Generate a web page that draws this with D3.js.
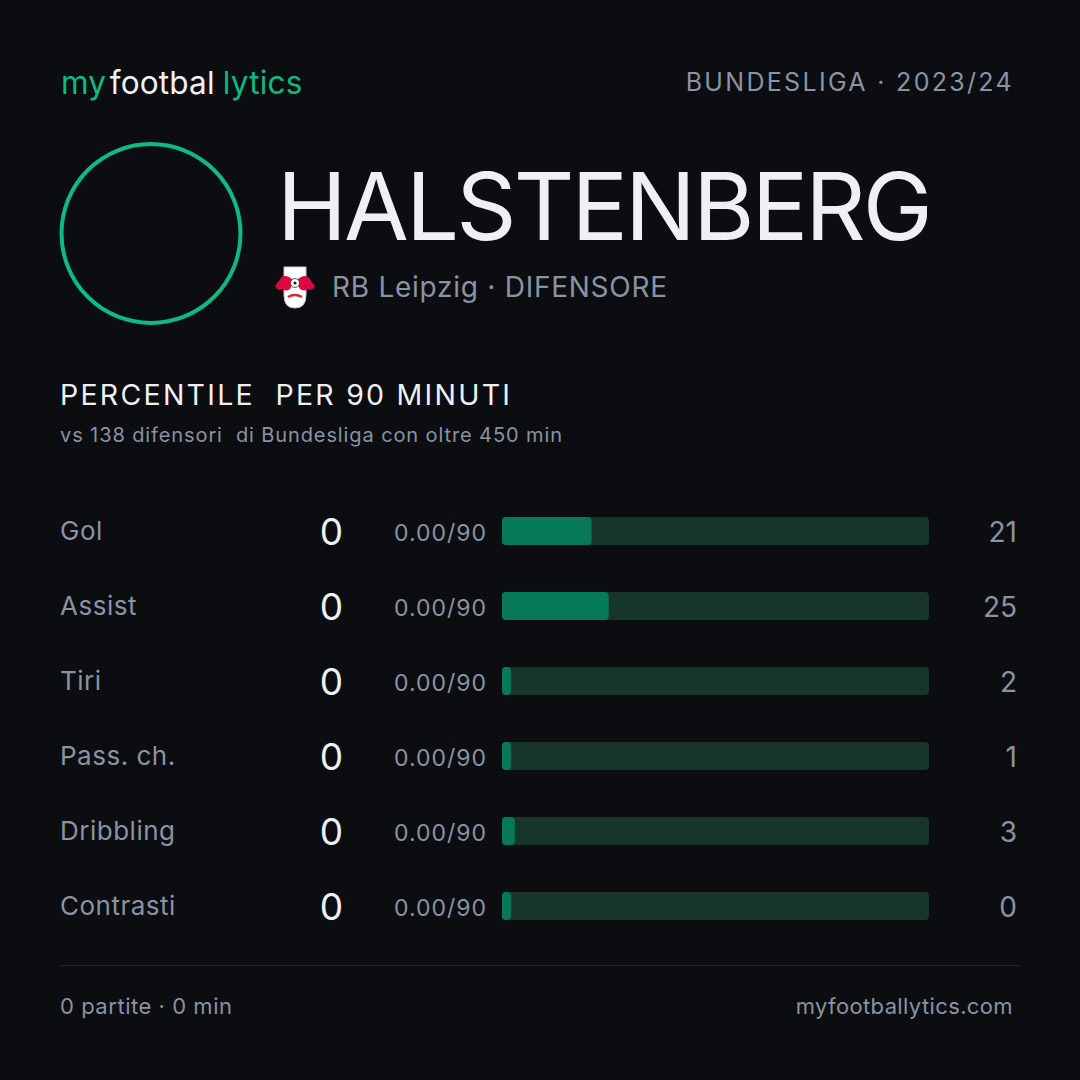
<!DOCTYPE html>
<html>
<head>
<meta charset="utf-8">
<script src="https://cdn.jsdelivr.net/npm/d3@7"></script>
<style>
  html, body { margin: 0; padding: 0; background: #0b0d11; }
  svg { display: block; }
  text { font-family: Inter, "Noto Sans", sans-serif; }
</style>
</head>
<body>
<svg id="chart" width="1080" height="1080"></svg>
<script>
// ---------- data ----------
const metrics = ["Gol", "Assist", "Tiri", "Pass. ch.", "Dribbling", "Contrasti"];
const totals = [0, 0, 0, 0, 0, 0];
const per90 = ["0.00", "0.00", "0.00", "0.00", "0.00", "0.00"];
const percentiles = [21, 25, 2, 1, 3, 0];

const playerName = "HALSTENBERG";
const teamLine = "RB Leipzig · DIFENSORE";
const leagueLine = "BUNDESLIGA · 2023/24";
const sectionTitle = "PERCENTILE  PER 90 MINUTI";
const sectionSub = "vs 138 difensori  di Bundesliga con oltre 450 min";
const footerLeft = "0 partite · 0 min";
const footerRight = "myfootballytics.com";

// ---------- style ----------
const C = {
  bg: "#0b0d11",
  green: "#10b981",
  fill: "#067a58",
  track: "#17352b",
  white: "#eef0f4",
  grey: "#8a93a2",
  rule: "#23262d"
};

const svg = d3.select("#chart");
svg.append("rect").attr("width", 1080).attr("height", 1080).attr("fill", C.bg);

function fitWidth(sel, target) {
  sel.each(function () {
    const t = d3.select(this);
    const n = t.text().length;
    const w = this.getComputedTextLength();
    t.attr("letter-spacing", (target - w) / Math.max(1, n - 1));
  });
  return sel;
}

// ---------- header ----------
const logo = svg.append("text").attr("x", 61).attr("y", 94).attr("font-size", 31.5).attr("font-weight", 400)
  .attr("letter-spacing", 0.2);
logo.append("tspan").attr("fill", C.green).text("my");
logo.append("tspan").attr("fill", C.white).attr("dx", 3).text("footbal");
logo.append("tspan").attr("fill", C.green).attr("dx", 8).text("lytics");

const lg = svg.append("text").attr("x", 1014).attr("y", 91).attr("text-anchor", "end")
  .attr("font-size", 25).attr("fill", C.grey).text(leagueLine);
fitWidth(lg, 326);

// photo ring
svg.append("circle").attr("cx", 151).attr("cy", 233.5).attr("r", 89.5)
  .attr("fill", "none").attr("stroke", C.green).attr("stroke-width", 4);

const nm = svg.append("text").attr("x", 277).attr("y", 240).attr("font-size", 94)
  .attr("fill", C.white).text(playerName);
fitWidth(nm, 656);

// club crest (simplified)
const crest = svg.append("g").attr("transform", "translate(295,287)");
crest.append("path")
  .attr("d", "M-11,-20 L11,-20 L11,8 Q11,21 0,21 Q-11,21 -11,8 Z")
  .attr("fill", "#ffffff").attr("stroke", "#c9ccd3").attr("stroke-width", 1);
crest.append("path").attr("d", "M-20,-1 L-16,-6 Q-13,-13 -6,-10 L-3,-8 Q-2,-2 -5,2 Q-9,5 -13,2 L-17,3 Z").attr("fill", "#dd0741");
crest.append("path").attr("d", "M20,-1 L16,-6 Q13,-13 6,-10 L3,-8 Q2,-2 5,2 Q9,5 13,2 L17,3 Z").attr("fill", "#dd0741");
crest.append("circle").attr("cx", 0).attr("cy", -4).attr("r", 4.5).attr("fill", "#ffffff").attr("stroke", "#333").attr("stroke-width", 0.8);
crest.append("circle").attr("cx", 0).attr("cy", -4).attr("r", 1.6).attr("fill", "#222");
crest.append("path").attr("d", "M-7,10 Q0,6 7,10").attr("fill", "none").attr("stroke", "#cc2a3a").attr("stroke-width", 2.5);

const tl = svg.append("text").attr("x", 332).attr("y", 297).attr("font-size", 28)
  .attr("fill", C.grey).text(teamLine);
fitWidth(tl, 335);

// ---------- section title ----------
const st = svg.append("text").attr("x", 60).attr("y", 405).attr("font-size", 28.5)
  .attr("fill", C.white).style("white-space", "pre").text(sectionTitle);
fitWidth(st, 450);
const ss = svg.append("text").attr("x", 60).attr("y", 442).attr("font-size", 20)
  .attr("fill", C.grey).style("white-space", "pre").text(sectionSub);
fitWidth(ss, 502);

// ---------- bars ----------
const x = d3.scaleLinear().domain([0, 100]).range([502, 929]);
const y = d3.scalePoint().domain(metrics).range([531, 906]);
const barH = 28;
const minW = 9;

const rows = svg.append("g").selectAll("g").data(metrics).join("g")
  .attr("transform", d => `translate(0,${y(d)})`);

rows.append("text").attr("x", 60).attr("y", 9).attr("font-size", 26).attr("fill", C.grey)
  .attr("letter-spacing", 0.5).text(d => d);

rows.append("text").attr("x", 343).attr("y", 14).attr("text-anchor", "end")
  .attr("font-size", 37).attr("fill", C.white).text((d, i) => totals[i]);

const p9 = rows.append("text").attr("x", 487).attr("y", 9.5).attr("text-anchor", "end")
  .attr("font-size", 23).attr("fill", C.grey).text((d, i) => per90[i] + "/90");
fitWidth(p9, 92);

rows.append("rect").attr("x", x(0)).attr("y", -barH / 2).attr("width", x(100) - x(0))
  .attr("height", barH).attr("rx", 4).attr("fill", C.track);

rows.append("rect").attr("x", x(0)).attr("y", -barH / 2)
  .attr("width", (d, i) => Math.max(minW, x(percentiles[i]) - x(0)))
  .attr("height", barH).attr("rx", 4).attr("fill", C.fill);

rows.append("text").attr("x", 1017).attr("y", 11).attr("text-anchor", "end")
  .attr("font-size", 28).attr("fill", C.grey).text((d, i) => percentiles[i]);

// ---------- footer ----------
svg.append("line").attr("x1", 60).attr("x2", 1020).attr("y1", 965.5).attr("y2", 965.5)
  .attr("stroke", C.rule).attr("stroke-width", 1);

const fl = svg.append("text").attr("x", 60).attr("y", 1014).attr("font-size", 22).attr("fill", C.grey)
  .text(footerLeft);
fitWidth(fl, 172);
const fr = svg.append("text").attr("x", 1013).attr("y", 1014).attr("text-anchor", "end")
  .attr("font-size", 22).attr("fill", C.grey).text(footerRight);
fitWidth(fr, 217);
</script>
</body>
</html>
